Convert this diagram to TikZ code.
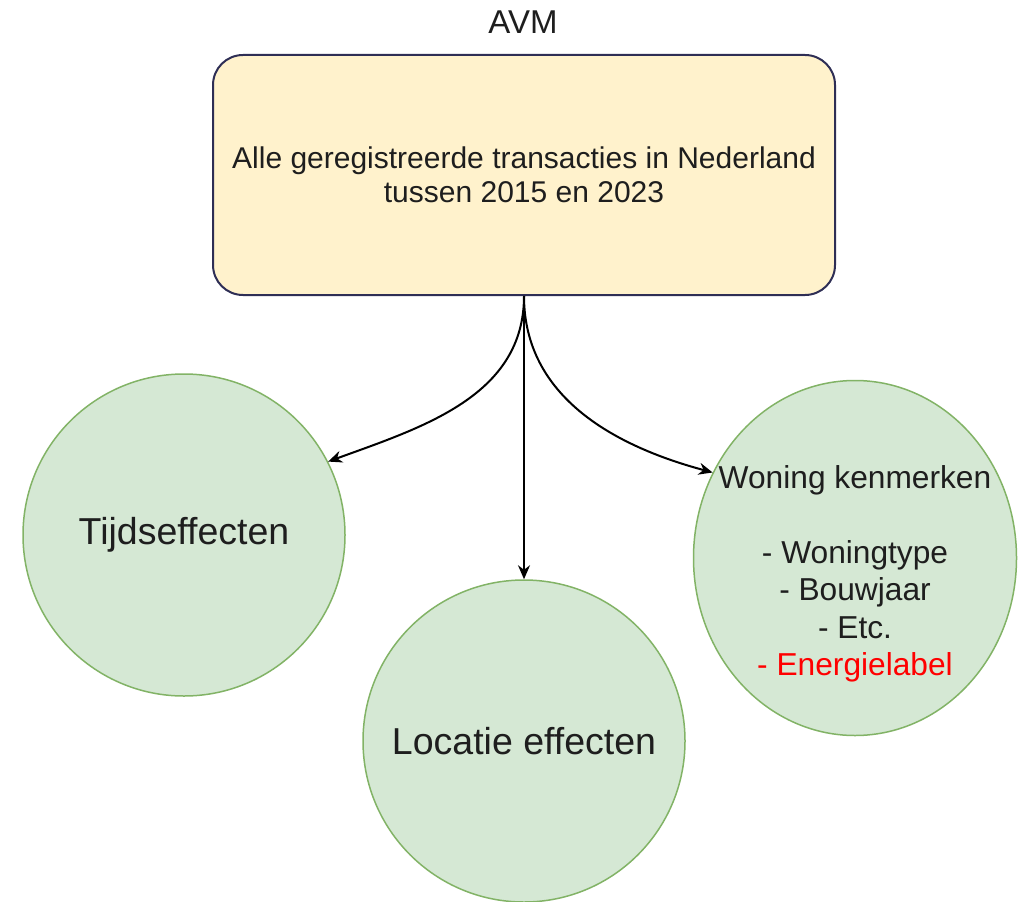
\documentclass[tikz,border=0pt]{standalone}
\usepackage{fontspec}
\setmainfont{Liberation Sans}
\usetikzlibrary{shapes.geometric, arrows.meta}
\definecolor{boxfill}{HTML}{FFF2CC}
\definecolor{boxline}{HTML}{2E2E55}
\definecolor{cirkelfill}{HTML}{D5E8D4}
\definecolor{cirkelline}{HTML}{82B366}
\definecolor{tekst}{HTML}{1E1E1E}

\begin{document}
\begin{tikzpicture}[x=0.5pt, y=0.5pt, >={Stealth[length=7pt, width=6pt]}, line width=1pt,
    bron/.style={draw=boxline, fill=boxfill, rounded corners=15pt, minimum width=311pt,
      minimum height=120pt, align=center, text=tekst, font=\fontsize{15}{17}\selectfont},
    effect/.style={circle, draw=cirkelline, fill=cirkelfill, line width=0.75pt,
      minimum size=161pt, inner sep=0pt, text=tekst, font=\fontsize{18.75}{22.5}\selectfont}]
    \useasboundingbox (0,0) rectangle (1020,901);

    \node[text=tekst, font=\fontsize{16.5}{20}\selectfont] (avm) at (523,879) {AVM};
    \node[bron] (data) at (524,726) {Alle geregistreerde transacties in Nederland\\tussen 2015 en 2023};

    \node[effect] (tijd) at (184,366) {Tijdseffecten};
    \node[effect] (locatie) at (524,160) {Locatie effecten};
    \node[effect, ellipse, minimum width=161.5pt, minimum height=177.5pt] (woning) at (855,343) {};
    \node[align=center, text=tekst, font=\fontsize{15.85}{18.7}\selectfont] (kenmerken) at (855,327)
      {Woning kenmerken\\[18.7pt]- Woningtype\\- Bouwjaar\\- Etc.\\\textcolor{red}{- Energielabel}};

    \draw[->] (data.south) to[out=-90, in=20] (tijd.27);
    \draw[->] (data.south) -- (locatie.north);
    \draw[->] (data.south) to[out=-90, in=165] (woning.149);
  \end{tikzpicture}
\end{document}
